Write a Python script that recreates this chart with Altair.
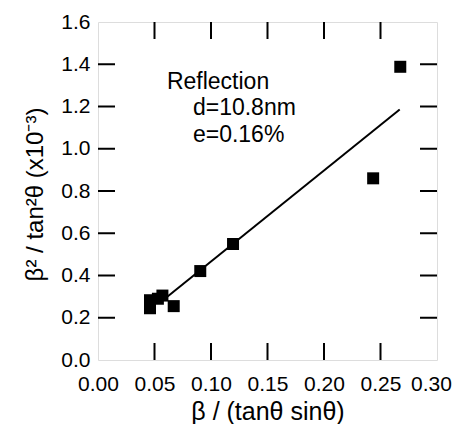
import altair as alt
import pandas as pd

# data points
xs = [0.046, 0.046, 0.053, 0.057, 0.067, 0.0905, 0.1195, 0.2435, 0.2675]
ys = [0.283, 0.245, 0.290, 0.305, 0.255, 0.421, 0.549, 0.860, 1.388]

# fitted line end points
fit_x = [0.058, 0.267]
fit_y = [0.285, 1.186]

x_ticks = [0.0, 0.05, 0.10, 0.15, 0.20, 0.25, 0.30]
y_ticks = [0.0, 0.2, 0.4, 0.6, 0.8, 1.0, 1.2, 1.4, 1.6]
x_inner = [0.05, 0.10, 0.15, 0.20, 0.25]
y_inner = [0.2, 0.4, 0.6, 0.8, 1.0, 1.2, 1.4]

notes = ["Reflection", "d=10.8nm", "e=0.16%"]
note_x = [0.061, 0.084, 0.084]
note_y = [1.283, 1.16, 1.032]

W, H = 339, 338
FONT = "Liberation Sans"

pts = pd.DataFrame({"x": xs, "y": ys})
fit = pd.DataFrame({"x": fit_x, "y": fit_y})
xt = pd.DataFrame({"x": x_inner})
yt = pd.DataFrame({"y": y_inner})
nt = pd.DataFrame({"t": notes, "x": note_x, "y": note_y})

xscale = alt.Scale(domain=[0, 0.3], nice=False, zero=False)
yscale = alt.Scale(domain=[0, 1.6], nice=False, zero=False)

xaxis = alt.Axis(values=x_ticks, format=".2f", title="β / (tanθ sinθ)",
                 domain=False, ticks=False, grid=False, labelFontSize=21,
                 labelPadding=13, labelFont=FONT, labelColor="black",
                 labelOffset={"condition": {"test": "datum.value >= 0.29", "value": -6},
                              "value": 0},
                 titleFont=FONT, titleFontSize=25, titleFontWeight="normal",
                 titleColor="black", titleY=59, titleBaseline="alphabetic",
                 labelFlush=False)
yaxis = alt.Axis(values=y_ticks, format=".1f", title="β² / tan²θ  (x10⁻³)",
                 domain=False, ticks=False, grid=False, labelFontSize=21,
                 labelPadding=8, labelFont=FONT, labelColor="black",
                 titleFont=FONT, titleFontSize=24, titleFontWeight="normal",
                 titleColor="black", titleX=-56, titleY=172, titleAngle=270,
                 titleBaseline="alphabetic", titleAlign="center", labelFlush=False)

points = alt.Chart(pts).mark_square(size=144, color="black", opacity=1).encode(
    x=alt.X("x:Q", scale=xscale, axis=xaxis),
    y=alt.Y("y:Q", scale=yscale, axis=yaxis),
)

line = alt.Chart(fit).mark_line(color="black", strokeWidth=2).encode(
    x=alt.X("x:Q", scale=xscale), y=alt.Y("y:Q", scale=yscale)
)

tick_len = 17
xb = alt.Chart(xt).mark_rule(color="black", strokeWidth=2).encode(
    x=alt.X("x:Q", scale=xscale), y=alt.value(H), y2=alt.value(H - tick_len))
xtop = alt.Chart(xt).mark_rule(color="black", strokeWidth=2).encode(
    x=alt.X("x:Q", scale=xscale), y=alt.value(0), y2=alt.value(tick_len))
yl = alt.Chart(yt).mark_rule(color="black", strokeWidth=2).encode(
    y=alt.Y("y:Q", scale=yscale), x=alt.value(0), x2=alt.value(tick_len))
yr = alt.Chart(yt).mark_rule(color="black", strokeWidth=2).encode(
    y=alt.Y("y:Q", scale=yscale), x=alt.value(W), x2=alt.value(W - tick_len))

text = alt.Chart(nt).mark_text(align="left", baseline="alphabetic", font=FONT,
                               fontSize=23, color="black").encode(
    x=alt.X("x:Q", scale=xscale), y=alt.Y("y:Q", scale=yscale), text="t:N")

chart = alt.layer(xb, xtop, yl, yr, line, points, text).properties(
    width=W, height=H,
    autosize=alt.AutoSizeParams(type="none"),
    padding={"left": 90, "top": 14, "right": 15, "bottom": 64},
).configure_view(stroke="black", strokeWidth=2).configure(background="white")

chart.save("out.html", embed_options={"renderer": "svg", "actions": False})
